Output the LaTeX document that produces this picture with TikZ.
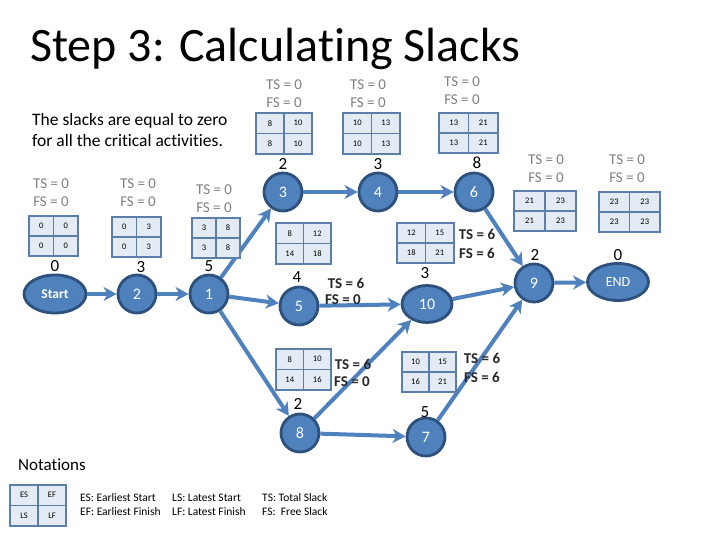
\documentclass[tikz,border=0pt]{standalone}
\usepackage{fontspec}
\setmainfont{Carlito}[Ligatures=NoCommon]
\usetikzlibrary{arrows.meta,shapes.geometric}
\definecolor{nodefill}{RGB}{79,129,189}
\definecolor{nodeline}{RGB}{46,80,124}
\definecolor{edgecol}{RGB}{79,129,189}
\definecolor{tabline}{RGB}{92,126,170}
\definecolor{tabfill}{RGB}{228,235,245}
\definecolor{slackgray}{RGB}{128,128,128}
\definecolor{darktxt}{RGB}{38,38,45}
\tikzset{
  act/.style={circle, fill=nodefill, draw=nodeline, line width=2.8pt, minimum size=38pt, inner sep=0pt, text=white, font=\fontsize{16}{16}\selectfont},
  actell/.style={ellipse, fill=nodefill, draw=nodeline, line width=2.8pt, inner sep=0pt, text=white},
  edge/.style={draw=edgecol, line width=4pt, -{Stealth[length=13pt,width=14pt,inset=4pt]}},
  dur/.style={font=\fontsize{17}{17}\selectfont, text=black, inner sep=0pt},
  slk/.style={font=\fontsize{15}{15}\selectfont, text=slackgray, inner sep=0pt},
  slkb/.style={font=\bfseries\fontsize{15}{15}\selectfont, text=darktxt, inner sep=0pt},
  celltxt/.style={font=\fontsize{8.5}{8.5}\selectfont, inner sep=0pt, text=black},
  legtxt/.style={font=\fontsize{11.5}{11.5}\selectfont, inner sep=0pt, anchor=base west, text=black},
  pics/cpm/.style n args={6}{code={
    \draw[draw=tabline, fill=tabfill, line width=1.8pt] (0,0) rectangle (#1,#2);
    \draw[draw=tabline, line width=1.8pt] (#1/2,0) -- (#1/2,#2) (0,#2/2) -- (#1,#2/2);
    \node[celltxt] (-es) at (#1/4,#2/4) {#3};
    \node[celltxt] (-ef) at (3*#1/4,#2/4) {#4};
    \node[celltxt] (-ls) at (#1/4,3*#2/4) {#5};
    \node[celltxt] (-lf) at (3*#1/4,3*#2/4) {#6};
  }}
}
\begin{document}
\begin{tikzpicture}[x=1pt,y=-1pt]
\useasboundingbox (0,0) rectangle (720,540);
\fill[white] (0,0) rectangle (720,540);

% title and text
\node[anchor=base west, inner sep=0pt, font=\fontsize{48}{48}\selectfont] (title) at (30,62) {Step 3: Calculat\kern0pt ing Slacks};
\node[anchor=base west, inner sep=0pt, font=\fontsize{17.5}{17.5}\selectfont] (note1) at (32,126) {The slacks are equal to zero};
\node[anchor=base west, inner sep=0pt, font=\fontsize{17.5}{17.5}\selectfont] (note2) at (32,147) {for all the critical activit\kern0pt ies.};

% activity nodes
\node[actell, minimum width=62pt, minimum height=38pt, font=\bfseries\fontsize{13.5}{13.5}\selectfont] (nS) at (55,294) {Start};
\node[act] (n2) at (137,294) {2};
\node[act] (n1) at (209,294) {1};
\node[act] (n3) at (283,192) {3};
\node[act] (n4) at (378,192) {4};
\node[act] (n6) at (474,192) {6};
\node[act] (n5) at (299,306) {5};
\node[actell, minimum width=50pt, minimum height=37pt, font=\fontsize{16}{16}\selectfont] (n10) at (427,304) {10};
\node[act] (n8) at (300,433) {8};
\node[act] (n7) at (426,437) {7};
\node[act] (n9) at (534,283) {9};
\node[actell, minimum width=61pt, minimum height=37pt, font=\fontsize{14}{14}\selectfont] (nE) at (618,282) {END};

% edges
\draw[edge] (nS) -- (n2);
\draw[edge] (n2) -- (n1);
\draw[edge] (n1) -- (n3);
\draw[edge] (n1) -- (n5);
\draw[edge] (n1) -- (n8);
\draw[edge] (n3) -- (n4);
\draw[edge] (n4) -- (n6);
\draw[edge] (n6) -- (n9);
\draw[edge] (n5) -- (n10);
\draw[edge] (n8) -- (n10);
\draw[edge] (n8) -- (n7);
\draw[edge] (n7) -- (n9);
\draw[edge] (n10) -- (n9);
\draw[edge] (n9) -- (nE);

% durations
\node[dur] (dS) at (55,266) {0};
\node[dur] (d2) at (141,267) {3};
\node[dur] (d1) at (209,266) {5};
\node[dur] (d3) at (283,164) {2};
\node[dur] (d4) at (378,164) {3};
\node[dur] (d6) at (477,163) {8};
\node[dur] (d5) at (297,277) {4};
\node[dur] (d10) at (425,273) {3};
\node[dur] (d8) at (298,404) {2};
\node[dur] (d7) at (425,412) {5};
\node[dur] (d9) at (535,255) {2};
\node[dur] (dE) at (618,255) {0};

% tables
\pic (tS) at (29,216) {cpm={49}{40}{0}{0}{0}{0}};
\pic (t2) at (112,217) {cpm={49}{40}{0}{3}{0}{3}};
\pic (t1) at (192,218) {cpm={48}{40}{3}{8}{3}{8}};
\pic (t3) at (256,113) {cpm={56}{41}{8}{10}{8}{10}};
\pic (t4) at (343,113) {cpm={57}{41}{10}{13}{10}{13}};
\pic (t6) at (439,113) {cpm={59}{40}{13}{21}{13}{21}};
\pic (t5) at (276,223) {cpm={55}{41}{8}{12}{14}{18}};
\pic (t10) at (397,223) {cpm={57}{40}{12}{15}{18}{21}};
\pic (t8) at (276,349) {cpm={55}{41}{8}{10}{14}{16}};
\pic (t7) at (402,352) {cpm={54}{40}{10}{15}{16}{21}};
\pic (t9) at (514,191) {cpm={62}{40}{21}{23}{21}{23}};
\pic (tE) at (599,192) {cpm={61}{40}{23}{23}{23}{23}};

% slack labels (critical)
\node[slk] (sS1) at (51,184) {TS = 0};
\node[slk] (sS2) at (51,202) {FS = 0};
\node[slk] (s21) at (138,184) {TS = 0};
\node[slk] (s22) at (138,202) {FS = 0};
\node[slk] (s11) at (214,190) {TS = 0};
\node[slk] (s12) at (214,208) {FS = 0};
\node[slk] (s31) at (284,85) {TS = 0};
\node[slk] (s32) at (284,103) {FS = 0};
\node[slk] (s41) at (368,85) {TS = 0};
\node[slk] (s42) at (368,103) {FS = 0};
\node[slk] (s61) at (462,82) {TS = 0};
\node[slk] (s62) at (462,100) {FS = 0};
\node[slk] (s91) at (546,160) {TS = 0};
\node[slk] (s92) at (546,178) {FS = 0};
\node[slk] (sE1) at (627,160) {TS = 0};
\node[slk] (sE2) at (627,178) {FS = 0};

% slack labels (non-critical)
\node[slkb] (s101) at (477,234) {TS = 6};
\node[slkb] (s102) at (477,253) {FS = 6};
\node[slkb] (s51) at (346,283) {TS = 6};
\node[slkb] (s52) at (343,300) {FS = 0};
\node[slkb] (s81) at (353,364) {TS = 6};
\node[slkb] (s82) at (352,382) {FS = 0};
\node[slkb] (s71) at (482,358) {TS = 6};
\node[slkb] (s72) at (482,377) {FS = 6};

% notations
\node[anchor=base west, inner sep=0pt, font=\fontsize{17}{17}\selectfont] (notat) at (18,470) {Notations};
\pic (tL) at (10,485) {cpm={56}{41}{ES}{EF}{LS}{LF}};
\node[legtxt] (l1) at (80,501) {ES: Earliest Start};
\node[legtxt] (l2) at (80,515) {EF: Earliest Finish};
\node[legtxt] (l3) at (172,501) {LS: Latest Start};
\node[legtxt] (l4) at (172,515) {LF: Latest Finish};
\node[legtxt] (l5) at (262,501) {TS: Total Slack};
\node[legtxt] (l6) at (262,515) {FS:\ \ Free Slack};
\end{tikzpicture}
\end{document}
